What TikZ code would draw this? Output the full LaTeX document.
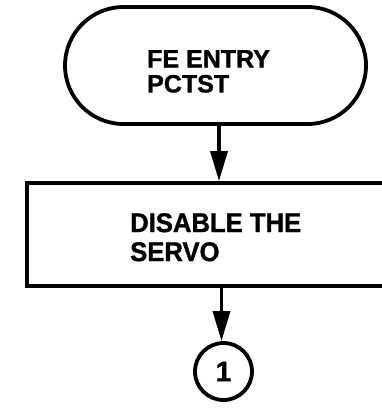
\documentclass[tikz,border=0pt]{standalone}
\usepackage{fontspec}
\setmainfont{Liberation Sans}[BoldFeatures={FakeBold=1.2}]
\newfontfamily\fnarrow{Liberation Sans}[FakeStretch=0.95,BoldFeatures={FakeBold=1.2}]
\usetikzlibrary{shapes.misc,arrows.meta}
\begin{document}
\begin{tikzpicture}[x=1pt,y=-1pt,
  lw/.style={line width=3.8pt},
  arr/.style={line width=3.6pt,-{Triangle[length=30pt,width=17pt]}},
  lbla/.style={font=\fontsize{25}{25}\selectfont\bfseries,align=left,inner sep=0pt,anchor=north west},
  lblb/.style={font=\fnarrow\fontsize{27}{29}\selectfont\bfseries,align=left,inner sep=0pt,anchor=north west}]
\useasboundingbox (0,0) rectangle (382,409);
\node[lw,draw,rounded rectangle,minimum width=301pt,minimum height=117pt,inner sep=0pt] (term) at (215.5,65.5) {};
\node[lbla] (t1) at (147,50) {FE ENTRY\\PCTST};
\node[lw,draw,rectangle,minimum width=383pt,minimum height=103pt,inner sep=0pt] (box) at (218.5,234.5) {};
\node[lblb] (t2) at (130,213) {DISABLE THE\\SERVO};
\node[lw,draw,circle,minimum size=57pt,inner sep=0pt,font=\fontsize{28}{29}\selectfont\bfseries] (c1) at (223.5,371.5) {1};
\draw[arr] ([xshift=3.5pt]term.south) -- ([xshift=3.5pt]term.south |- box.north);
\draw[arr] ([xshift=3pt]box.south) -- ([xshift=3pt]box.south |- c1.north);
\end{tikzpicture}
\end{document}
